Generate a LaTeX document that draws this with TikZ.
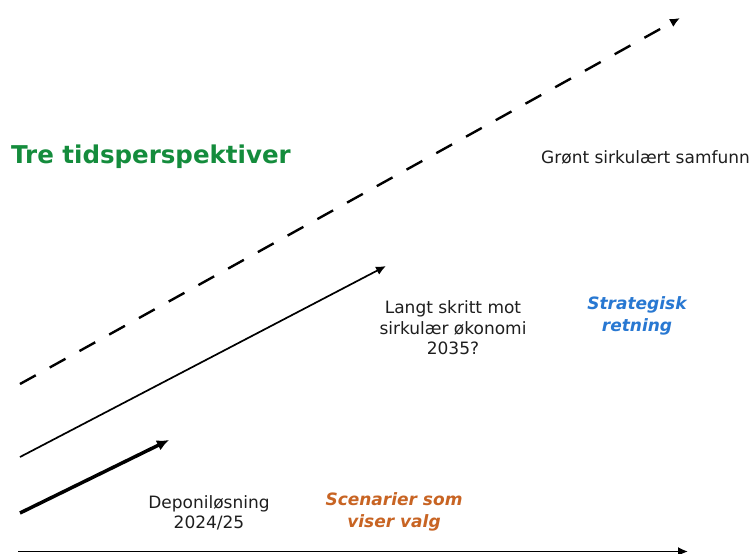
\documentclass[tikz,border=0pt]{standalone}
\usepackage{fontspec}
\setmainfont{DejaVu Sans}
\usetikzlibrary{arrows.meta}
\definecolor{titlegreen}{RGB}{20,140,60}
\definecolor{stratblue}{RGB}{40,120,210}
\definecolor{scenorange}{RGB}{200,100,35}
\definecolor{txtgray}{RGB}{30,30,30}
\begin{document}
\begin{tikzpicture}[x=1pt,y=-1pt,
  lbl/.style={font=\fontsize{17}{20.5}\selectfont, text=txtgray, align=center, inner sep=0pt},
  emph/.style={font=\fontsize{17}{21.5}\selectfont\bfseries\itshape, align=center, inner sep=0pt},
  arr/.style={-{Latex[length=10pt,width=9pt]}, line width=1.7pt},
]
\useasboundingbox (0,0) rectangle (755,554);
\fill[white] (0,0) rectangle (755,554);
% coordinates
\coordinate (d0) at (20,384);
\coordinate (d1) at (680,18);
\coordinate (t0) at (20,457);
\coordinate (t1) at (386,266);
\coordinate (k0) at (20,513);
\coordinate (k1) at (169,440);
\coordinate (a0) at (18,551.5);
\coordinate (a1) at (688,551.5);
% arrows
\draw[arr, line width=2.4pt, dash pattern=on 18pt off 16pt] (d0) -- (d1);
\draw[arr] (t0) -- (t1);
\draw[arr, line width=3.5pt, -{Latex[length=12pt,width=11pt]}] (k0) -- (k1);
\draw[arr] (a0) -- (a1);
% texts
\node[anchor=west, inner sep=0pt, font=\fontsize{24.5}{29}\selectfont\bfseries, text=titlegreen] (title) at (11,157) {Tre tidsperspektiver};
\node[lbl, anchor=west] (gronn) at (541,157) {Grønt sirkulært samfunn};
\node[lbl] (langt) at (453,328) {Langt skritt mot\\sirkulær økonomi\\2035?};
\node[emph, text=stratblue] (strat) at (637,316) {Strategisk\\retning};
\node[lbl] (depo) at (209,513) {Deponiløsning\\2024/25};
\node[emph, text=scenorange] (scen) at (394,512) {Scenarier som\\viser valg};
\end{tikzpicture}
\end{document}
